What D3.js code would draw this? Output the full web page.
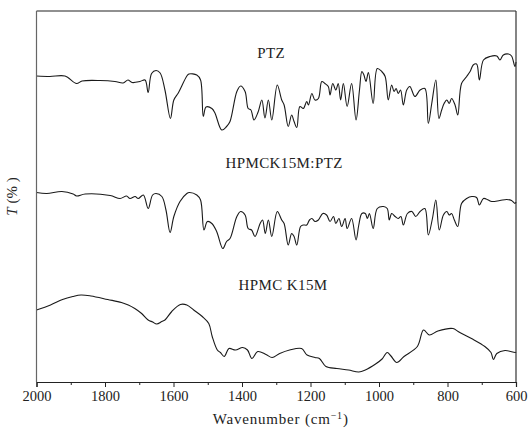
<!DOCTYPE html>
<html><head><meta charset="utf-8">
<script src="https://cdn.jsdelivr.net/npm/d3@7"></script>
<style>body{margin:0;background:#fff}svg{display:block}</style>
</head><body><div id="chart"></div>
<script>
// Wavenumber (cm-1) and transmittance (arbitrary offset units)
const ptzWave = [2000,1961,1917,1883,1867,1815,1771,1747,1733,1721,1698,1683,1674,1664,1651,1639,1625,1609,1599,1586,1561,1555,1532,1521,1513,1505,1488,1479,1459,1445,1435,1415,1404,1391,1382,1374,1365,1353,1342,1333,1323,1313,1297,1284,1277,1265,1255,1248,1240,1231,1221,1211,1206,1196,1187,1177,1167,1158,1148,1143,1135,1126,1119,1112,1104,1093,1080,1067,1057,1050,1044,1038,1031,1017,1005,992,982,973,963,956,950,944,937,929,919,910,895,880,866,856,846,834,825,817,810,802,795,788,778,770,759,744,734,725,715,707,695,676,656,647,637,622,613,603,600];
const ptzT = [61.2,61.1,61.2,59.7,60.2,60.3,60.1,59.8,60.4,59.9,60.1,60.4,57.9,61.7,62.3,61.8,58.4,52.7,56.4,57.8,61.2,61.6,61.4,60.4,53.1,55.0,54.7,53.8,50.4,51.1,52.1,58.1,59.2,58.1,54.7,54.4,52.4,54.0,56.4,52.8,56.4,52.4,59.4,56.4,55.4,51.1,53.4,52.1,50.9,55.1,54.7,56.1,55.4,57.7,56.4,56.7,60.1,59.7,59.1,57.4,59.7,58.4,59.7,56.4,59.7,55.1,59.7,52.4,58.4,62.1,61.4,60.1,61.9,55.7,62.7,62.1,61.1,56.4,59.4,58.1,58.7,57.7,58.4,55.4,58.4,59.1,57.1,58.4,58.7,51.7,55.7,60.4,52.7,54.4,55.7,56.4,55.7,56.7,55.4,53.4,59.7,61.1,62.1,63.4,63.6,60.4,64.4,65.1,65.2,64.4,65.4,65.6,65.2,63.1,64.0];

const mixWave = [2000,1970,1926,1893,1883,1858,1785,1756,1737,1727,1712,1703,1688,1674,1661,1651,1634,1622,1610,1599,1581,1561,1554,1532,1521,1511,1501,1488,1474,1456,1445,1435,1415,1404,1391,1382,1372,1362,1347,1340,1332,1323,1313,1297,1284,1277,1265,1255,1248,1240,1229,1221,1211,1203,1196,1187,1177,1164,1153,1143,1133,1126,1117,1109,1099,1093,1080,1067,1059,1050,1040,1034,1028,1017,1005,987,976,970,963,953,944,936,929,917,904,893,880,866,856,844,834,824,812,802,795,788,780,770,759,744,729,715,707,695,681,671,647,627,613,603,600];
const mixT = [37.9,37.7,38.1,37.6,37.2,37.6,37.3,36.7,37.2,36.7,37.1,36.7,37.4,34.7,37.4,37.7,37.1,34.4,29.9,33.1,36.1,37.7,37.9,37.4,36.4,30.4,32.1,31.7,30.1,26.7,28.1,28.7,33.1,34.1,33.4,30.7,30.4,29.1,31.7,32.4,29.7,32.4,29.1,34.1,32.4,31.7,27.4,29.7,29.1,27.4,31.1,31.4,31.4,32.4,32.7,32.1,32.4,33.7,33.4,32.1,33.1,31.7,32.7,31.1,32.7,30.7,32.7,28.4,31.4,33.7,33.7,32.7,33.7,30.7,34.7,35.1,34.7,32.4,33.7,33.1,32.7,33.1,31.4,33.7,34.1,33.1,34.1,34.7,29.4,32.7,36.4,30.4,33.4,34.1,33.4,33.7,32.4,31.1,35.7,36.7,37.1,36.9,35.4,36.7,36.4,36.1,36.3,36.5,36.3,35.7,36.0];

const hpmcWave = [2000,1959,1924,1894,1870,1841,1792,1752,1732,1713,1693,1674,1661,1649,1634,1625,1605,1580,1561,1541,1516,1497,1487,1472,1463,1452,1438,1419,1398,1384,1371,1354,1330,1312,1290,1261,1226,1210,1187,1174,1155,1123,1089,1059,1040,1010,991,976,965,948,927,888,870,853,828,784,769,730,691,673,666,656,632,602,600];
const hpmcT = [14.4,15.4,16.5,17.1,17.4,17.2,16.5,15.9,15.4,14.7,13.7,12.4,12.0,11.6,12.1,12.4,14.1,15.5,15.4,14.4,13.1,11.7,9.1,6.4,5.9,5.1,6.7,6.4,6.9,6.4,4.7,6.1,5.5,4.9,5.7,6.4,6.7,5.4,4.9,4.7,3.1,2.7,2.4,2.0,2.4,3.6,4.6,5.9,5.2,3.9,5.1,7.1,10.4,9.4,10.2,10.7,10.1,8.7,7.1,5.9,4.5,5.7,6.3,5.9,6.0];

const seriesNames = ["PTZ","HPMCK15M:PTZ","HPMC K15M"];
const labelPos = [[1315,64.8],[1277,42.8],[1280,18.4]]; // label anchors in data units
const xTicks = [2000,1800,1600,1400,1200,1000,800,600];
const xMinor = [1900,1700,1500,1300,1100,900,700];

const W=528,H=428;
const m={l:36.5,r:12,t:11,b:46};
const x=d3.scaleLinear().domain([2000,600]).range([m.l,W-m.r]);
const y=d3.scaleLinear().domain([0,74.2]).range([H-m.b,m.t]);

const svg=d3.select("#chart").append("svg").attr("width",W).attr("height",H);
const font='"Liberation Serif", "DejaVu Serif", serif';

const series=[[ptzWave,ptzT],[mixWave,mixT],[hpmcWave,hpmcT]];
series.forEach(([w,t])=>{
  const pts=w.map((v,i)=>[v,t[i]]);
  svg.append("path").datum(pts).attr("d",d3.line().x(d=>x(d[0])).y(d=>y(d[1])).curve(d3.curveCatmullRom.alpha(0.5)))
    .attr("fill","none").attr("stroke","#1a1a1a").attr("stroke-width",1.1);
});

// frame
const x0=x(2000),x1=x(600),y0=y(0),y1=y(74.2);
svg.append("line").attr("x1",x0).attr("x2",x1).attr("y1",y1).attr("y2",y1).attr("stroke","#222").attr("stroke-width",1.2);
svg.append("line").attr("x1",x1).attr("x2",x1).attr("y1",y1).attr("y2",y0).attr("stroke","#333").attr("stroke-width",1.2);
svg.append("line").attr("x1",x0).attr("x2",x0).attr("y1",y1).attr("y2",y0).attr("stroke","#666").attr("stroke-width",1.2);

const ax=svg.append("g").attr("transform",`translate(0,${y0})`)
  .call(d3.axisBottom(x).tickValues(xTicks).tickSize(5).tickPadding(4).tickFormat(d3.format("d")));
ax.select(".domain").attr("stroke","#222").attr("stroke-width",1.2);
ax.selectAll(".tick line").attr("stroke","#222");
ax.selectAll("text").attr("font-family",font).attr("font-size",14.5).attr("fill","#222");
const axm=svg.append("g").attr("transform",`translate(0,${y0})`)
  .call(d3.axisBottom(x).tickValues(xMinor).tickSize(3).tickFormat(""));
axm.select(".domain").remove();
axm.selectAll(".tick line").attr("stroke","#222");

// series labels
seriesNames.forEach((n,i)=>{
  svg.append("text").attr("x",x(labelPos[i][0])).attr("y",y(labelPos[i][1]))
    .attr("text-anchor","middle").attr("font-family",font).attr("font-size",15).attr("letter-spacing",0.4).attr("fill","#222").text(n);
});

// axis titles
const xt=svg.append("text").attr("x",(x0+x1)/2+4.5).attr("y",424).attr("text-anchor","middle")
  .attr("font-family",font).attr("font-size",15).attr("letter-spacing",0.8).attr("fill","#222");
xt.append("tspan").text("Wavenumber (cm");
xt.append("tspan").attr("dy",-5).attr("font-size",10).text("−1");
xt.append("tspan").attr("dy",5).text(")");

const yt=svg.append("text").attr("transform",`translate(17,${(y0+y1)/2}) rotate(-90)`).attr("text-anchor","middle")
  .attr("font-family",font).attr("font-size",15).attr("fill","#222");
yt.append("tspan").attr("font-style","italic").text("T");
yt.append("tspan").text(" (% )");
</script></body></html>
